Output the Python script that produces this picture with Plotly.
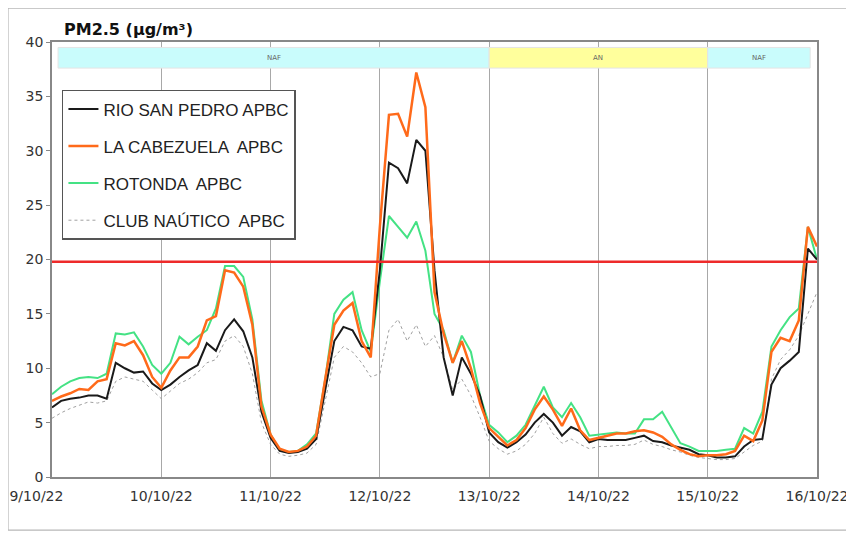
import pandas as pd
import plotly.graph_objects as go

# ---------------- data ----------------
start = "2022-10-09 00:00"
n_points = 85  # 2-hourly readings, 9/10/22 00:00 -> 16/10/22 00:00

rio_san_pedro = [6.4, 7.0, 7.2, 7.3, 7.5, 7.5, 7.2, 10.5, 10.0, 9.6, 9.7, 8.6,
                 8.0, 8.5, 9.2, 9.8, 10.3, 12.3, 11.6, 13.5, 14.5, 13.4, 11.0, 6.0,
                 3.6, 2.4, 2.2, 2.3, 2.6, 3.5, 8.0, 12.5, 13.8, 13.5, 12.0, 11.8,
                 19.0, 28.9, 28.4, 27.0, 31.0, 30.0, 19.0, 11.0, 7.5, 11.0, 9.5, 7.5,
                 4.1, 3.2, 2.7, 3.2, 3.9, 5.0, 5.8, 5.0, 3.8, 4.6, 4.2, 3.2,
                 3.5, 3.4, 3.4, 3.4, 3.6, 3.8, 3.3, 3.2, 2.9, 2.7, 2.5, 2.1,
                 2.0, 1.8, 1.8, 1.9, 2.8, 3.4, 3.5, 8.5, 10.0, 10.7, 11.5, 21.0, 20.0]

la_cabezuela = [7.0, 7.4, 7.7, 8.1, 8.0, 8.8, 9.0, 12.3, 12.1, 12.5, 11.2, 9.2,
                8.2, 9.8, 11.0, 11.0, 12.0, 14.4, 14.8, 19.0, 18.8, 17.5, 14.0, 6.5,
                3.9, 2.6, 2.3, 2.4, 2.8, 3.8, 9.0, 14.0, 15.3, 16.0, 12.5, 11.0,
                23.0, 33.3, 33.4, 31.3, 37.2, 34.0, 17.0, 13.2, 10.5, 12.5, 10.0, 6.8,
                4.5, 3.7, 2.9, 3.4, 4.5, 6.2, 7.4, 6.2, 4.7, 6.3, 4.3, 3.4,
                3.6, 3.8, 4.0, 4.0, 4.2, 4.3, 4.1, 3.7, 3.0, 2.5, 2.1, 1.9,
                2.0, 2.0, 2.1, 2.4, 3.8, 3.3, 5.2, 11.5, 12.8, 12.5, 14.4, 23.0, 21.2]

rotonda = [7.6, 8.3, 8.8, 9.1, 9.2, 9.1, 9.5, 13.2, 13.1, 13.3, 12.0, 10.3,
           9.5, 10.5, 12.9, 12.2, 12.9, 13.5, 15.5, 19.4, 19.4, 18.4, 14.5, 7.0,
           3.9, 2.5, 2.3, 2.4, 3.0, 4.0, 9.0, 15.0, 16.3, 17.0, 13.5, 11.5,
           18.0, 24.0, 23.0, 22.0, 23.5, 20.8, 15.0, 13.5, 10.5, 13.0, 11.5, 7.5,
           4.8, 4.1, 3.2, 3.8, 4.8, 6.5, 8.3, 6.4, 5.5, 6.8, 5.5, 3.8,
           3.9, 4.0, 4.1, 4.0, 4.0, 5.3, 5.3, 6.0, 4.5, 3.1, 2.8, 2.4,
           2.4, 2.4, 2.5, 2.6, 4.5, 4.0, 6.0, 12.0, 13.5, 14.7, 15.5, 23.0, 20.0]

club_nautico = [5.4, 5.9, 6.3, 6.6, 6.9, 6.8, 7.0, 8.8, 9.2, 9.0, 8.8, 8.0,
                7.2, 7.9, 8.6, 9.0, 9.6, 10.5, 10.8, 12.5, 13.0, 12.0, 9.5, 5.0,
                3.0, 2.1, 1.9, 2.0, 2.2, 3.0, 7.0, 11.0, 12.0, 11.5, 10.5, 9.2,
                9.5, 13.5, 14.5, 12.5, 14.0, 12.0, 13.0, 11.0, 8.0, 9.0, 7.5, 5.5,
                3.3, 2.6, 2.1, 2.4, 3.0, 4.0, 5.5, 4.0, 3.1, 3.5, 3.0, 2.6,
                2.8, 2.8, 2.9, 2.9, 3.0, 3.4, 3.0, 2.8, 2.5, 2.3, 2.0, 1.8,
                1.7, 1.6, 1.6, 1.7, 2.3, 2.9, 3.3, 9.0, 10.8, 11.7, 13.0, 15.0, 17.0]

limit_value = 19.8

series_names = ["RIO SAN PEDRO APBC", "LA CABEZUELA  APBC", "ROTONDA  APBC", "CLUB NAÚTICO  APBC"]

tick_dates = ["2022-10-09", "2022-10-10", "2022-10-11", "2022-10-12",
              "2022-10-13", "2022-10-14", "2022-10-15", "2022-10-16"]
tick_labels = ["9/10/22", "10/10/22", "11/10/22", "12/10/22",
               "13/10/22", "14/10/22", "15/10/22", "16/10/22"]

band_starts = ["2022-10-09 01:20", "2022-10-13 00:00", "2022-10-15 00:00"]
band_ends = ["2022-10-13 00:00", "2022-10-15 00:00", "2022-10-15 22:30"]
band_labels = ["NAF", "AN", "NAF"]
band_colors = ["#c9fcfc", "#ffff9c", "#c9fcfc"]
band_low, band_high = 37.6, 39.5

# ---------------- figure ----------------
times = pd.date_range(start, periods=n_points, freq="2h")

fig = go.Figure()

fig.add_trace(go.Scatter(x=times, y=club_nautico, name=series_names[3], mode="lines",
                         line=dict(color="#a0a0a0", width=1, dash="dot"),
                         legendrank=4, legendgroup="d"))
fig.add_trace(go.Scatter(x=times, y=rotonda, name=series_names[2], mode="lines",
                         line=dict(color="#44e284", width=2),
                         legendrank=3, legendgroup="c"))
fig.add_trace(go.Scatter(x=times, y=rio_san_pedro, name=series_names[0], mode="lines",
                         line=dict(color="#1a1a1a", width=2),
                         legendrank=1, legendgroup="a"))
fig.add_trace(go.Scatter(x=times, y=la_cabezuela, name=series_names[1], mode="lines",
                         line=dict(color="#ff6a1a", width=2.5),
                         legendrank=2, legendgroup="b"))
fig.add_trace(go.Scatter(x=[times[0], times[-1]], y=[limit_value, limit_value],
                         mode="lines", line=dict(color="#ee2a2a", width=2.5),
                         showlegend=False, hoverinfo="skip"))

for s, e, lab, col in zip(band_starts, band_ends, band_labels, band_colors):
    fig.add_shape(type="rect", xref="x", yref="y", x0=s, x1=e, y0=band_low, y1=band_high,
                  fillcolor=col, line=dict(color="#e4e4e4", width=1), layer="above")
    mid = pd.Timestamp(s) + (pd.Timestamp(e) - pd.Timestamp(s)) / 2
    fig.add_annotation(x=mid, y=(band_low + band_high) / 2, xref="x", yref="y",
                       text=lab, showarrow=False,
                       font=dict(family="DejaVu Sans", size=7, color="#666666"))

# outer chart frame
fig.add_shape(type="rect", xref="paper", yref="paper", x0=-0.0575, x1=1.08, y0=-0.122, y1=1.078,
              line=dict(color="#b8b8b8", width=1.2), fillcolor="rgba(0,0,0,0)", layer="below")

fig.add_annotation(xref="paper", yref="paper", x=0.013, y=1.0, xanchor="left", yanchor="bottom",
                   yshift=1, text="<b>PM2.5 (µg/m³)</b>", showarrow=False,
                   font=dict(family="DejaVu Sans", size=16, color="#111111"))

fig.update_layout(
    width=846, height=525,
    margin=dict(l=44, r=37, t=34, b=56, autoexpand=False),
    paper_bgcolor="white", plot_bgcolor="white",
    font=dict(family="DejaVu Sans", size=14, color="#333333"),
    legend=dict(x=0.013, y=0.89, xanchor="left", yanchor="top",
                bgcolor="white", bordercolor="#555555", borderwidth=1.5,
                font=dict(family="Liberation Sans", size=17, color="#222222"),
                tracegroupgap=12, itemwidth=30),
    showlegend=True,
)

fig.update_xaxes(range=[times[0], times[-1]], tickvals=tick_dates,
                 ticktext=["9/10/22" + "&nbsp;" * 7] + tick_labels[1:],
                 ticklabeloverflow="allow", automargin=False,
                 showgrid=True, gridcolor="#a8a8a8", gridwidth=1,
                 showline=True, linecolor="#888888", linewidth=1.5, mirror=True,
                 ticks="", ticklabelstandoff=5,
                 tickfont=dict(family="DejaVu Sans", size=14, color="#333333"))
fig.update_yaxes(range=[0, 40], dtick=5, showgrid=False, zeroline=False,
                 showline=True, linecolor="#888888", linewidth=1.5, mirror=True,
                 ticks="outside", ticklen=4, tickcolor="#888888", automargin=False,
                 tickfont=dict(family="DejaVu Sans", size=14, color="#333333"))

fig.write_html("out.html")
